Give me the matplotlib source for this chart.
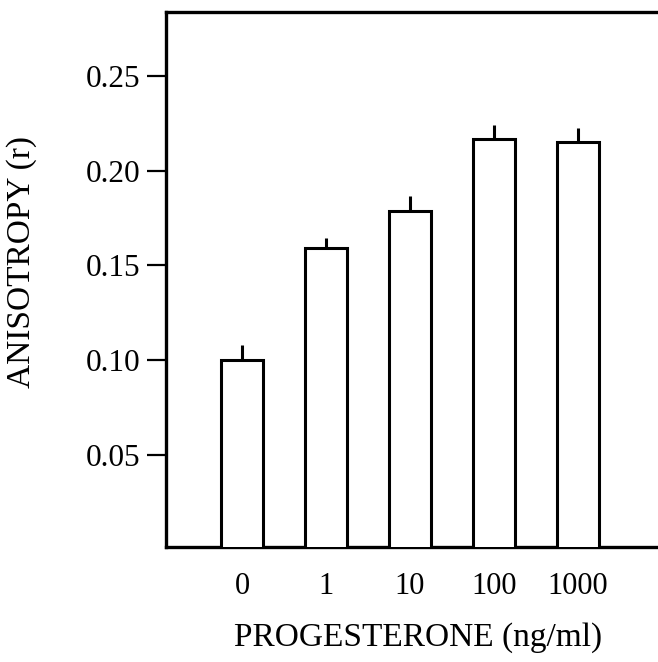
import matplotlib
matplotlib.use("Agg")
import matplotlib.pyplot as plt

categories = ["0", "1", "10", "100", "1000"]
anisotropy = [0.1003, 0.159, 0.1785, 0.217, 0.215]
errors = [0.0077, 0.0053, 0.008, 0.0074, 0.0078]
yticks = [0.05, 0.10, 0.15, 0.20, 0.25]
ytick_labels = ["0.05", "0.10", "0.15", "0.20", "0.25"]

plt.rcParams['font.family'] = ['Liberation Serif', 'DejaVu Serif']

fig = plt.figure(figsize=(6.58, 6.62), dpi=100)
ax = fig.add_axes([166/658, 1-547/662, 1-166/658, (547-12)/662])

x = list(range(len(categories)))
ax.bar(x, anisotropy, width=0.51, color='white', edgecolor='black', linewidth=2.2, zorder=3)
ax.errorbar(x, anisotropy, yerr=[[0]*len(errors), errors], fmt='none', ecolor='black',
            elinewidth=2.2, capsize=0, zorder=2)

ax.set_xlim(-0.905, 4.952)
ax.set_ylim(0.0014, 0.2838)
ax.set_xticks(x)
ax.set_xticklabels(categories, fontsize=22)
ax.set_yticks(yticks)
ax.set_yticklabels(ytick_labels, fontsize=22.5)
ax.tick_params(axis='x', length=0, pad=18)
ax.tick_params(axis='y', direction='out', length=13.5, width=1.6, pad=5)

for s in ['left', 'top', 'bottom']:
    ax.spines[s].set_linewidth(2.4)
ax.spines['right'].set_visible(False)

fig.text(418/658, 1-638/662, "PROGESTERONE (ng/ml)", ha='center', va='center', fontsize=24)
fig.text(22/658, 1-262/662, "ANISOTROPY (r)", ha='center', va='center', rotation=90, fontsize=24)

fig.savefig("out.png", dpi=100)
